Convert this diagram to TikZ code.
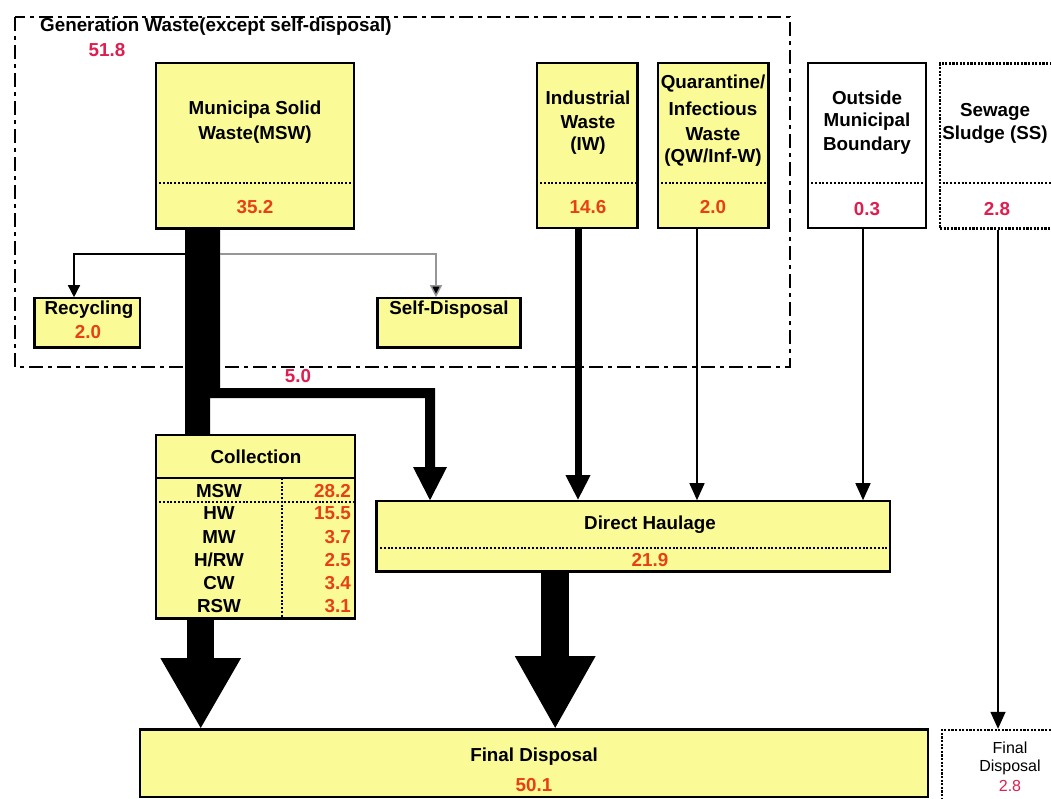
\documentclass[tikz,border=0pt]{standalone}
\usepackage{fontspec}
\setmainfont{Liberation Sans}
\usetikzlibrary{arrows.meta}
\definecolor{boxyellow}{RGB}{250,250,150}
\definecolor{numred}{RGB}{232,64,20}
\definecolor{numpink}{RGB}{222,30,80}
\definecolor{greyline}{RGB}{150,150,150}
\begin{document}
\begin{tikzpicture}[x=1pt,y=-1pt,
  font=\fontsize{18.8}{24}\selectfont\bfseries,
  ybox/.style={draw=black, line width=1.6pt, fill=boxyellow, rectangle, inner sep=0pt},
  wbox/.style={draw=black, line width=1.6pt, fill=white, rectangle, inner sep=0pt},
  dbox/.style={draw=black, line width=2.4pt, dash pattern=on 2.2pt off 1.4pt, fill=white, rectangle, inner sep=0pt},
  txt/.style={inner sep=0pt, anchor=center},
  num/.style={inner sep=0pt, anchor=center, text=numred},
  pnum/.style={inner sep=0pt, anchor=center, text=numpink},
  dotline/.style={line width=2pt, dash pattern=on 2pt off 1.8pt},
  framedash/.style={line width=2.4pt, dash pattern=on 14pt off 5pt on 4pt off 5pt},
  thinarrow/.style={line width=1.5pt, -{Triangle[width=15pt,length=17pt]}},
  smallarrow/.style={line width=1.5pt, -{Triangle[width=12pt,length=12pt]}},
  thick edge/.style={line width=3pt},
  smalltxt/.style={inner sep=0pt, anchor=center, font=\fontsize{16}{19}\selectfont\mdseries}
]
\useasboundingbox (0,0) rectangle (1051,798);
\clip (0,0) rectangle (1051,798);

% generation frame
\draw[framedash] (15,17) rectangle (790,367);
\node[txt, anchor=west] (title) at (40,27) {Generation Waste(except self-disposal)};
\node[pnum] (gentot) at (107,50) {51.8};

% source boxes
\node[ybox, minimum width=198pt, minimum height=165pt] (msw) at (255,145.5) {};
\node[ybox, minimum width=100pt, minimum height=165pt] (iw) at (587,145.5) {};
\node[ybox, minimum width=110pt, minimum height=165pt] (qw) at (713,145.5) {};
\node[wbox, minimum width=118pt, minimum height=165pt] (out) at (867,145.5) {};
\node[dbox, minimum width=130pt, minimum height=165pt] (ss) at (1005,146) {};

\draw[thick edge] (iw.north east) -- (iw.south east);
\draw[thick edge] (qw.north east) -- (qw.south east);
\draw[thick edge] (msw.south west) -- (msw.south east);

\draw[dotline] (msw.west |- 0,183) -- (msw.east |- 0,183);
\draw[dotline] (iw.west |- 0,183) -- (iw.east |- 0,183);
\draw[dotline] (qw.west |- 0,183) -- (qw.east |- 0,183);
\draw[dotline] (out.west |- 0,183) -- (out.east |- 0,183);
\draw[dotline] (ss.west |- 0,183) -- (ss.east |- 0,183);

\node[txt] (mswt1) at (255,110) {Municipa Solid};
\node[txt] (mswt2) at (255,135) {Waste(MSW)};
\node[num] (mswn) at (255,207) {35.2};

\node[txt] (iwt1) at (588,98) {Industrial};
\node[txt] (iwt2) at (588,122) {Waste};
\node[txt] (iwt3) at (588,146) {(IW)};
\node[num] (iwn) at (588,207) {14.6};

\node[txt] (qwt1) at (713,84) {Quarantine/};
\node[txt] (qwt2) at (713,109) {Infectious};
\node[txt] (qwt3) at (713,134) {Waste};
\node[txt] (qwt4) at (713,158) {(QW/Inf-W)};
\node[num] (qwn) at (713,207) {2.0};

\node[txt] (outt1) at (867,98) {Outside};
\node[txt] (outt2) at (867,122) {Municipal};
\node[txt] (outt3) at (867,146) {Boundary};
\node[pnum] (outn) at (867,209) {0.3};

\node[txt] (sst1) at (995,112) {Sewage};
\node[txt] (sst2) at (995,135) {Sludge (SS)};
\node[pnum] (ssn) at (997,209) {2.8};

% recycling / self-disposal
\node[ybox, minimum width=105pt, minimum height=49pt] (rec) at (87.5,322.5) {};
\node[ybox, minimum width=142pt, minimum height=49pt] (sd) at (449,322.5) {};
\draw[thick edge] (rec.north west) -- (rec.south west) -- (rec.south east);
\draw[thick edge] (sd.north west) -- (sd.south west) -- (sd.south east) -- (sd.north east);
\node[txt] (rect) at (89,310) {Recycling};
\node[num] (recn) at (88,332) {2.0};
\node[txt] (sdt) at (449,310) {Self-Disposal};

% collection
\node[ybox, minimum width=199pt, minimum height=183pt] (coll) at (255.5,526.5) {};
\draw[thick edge] (coll.south west) -- (coll.south east);
\draw[line width=1.6pt] (coll.west |- 0,478) -- (coll.east |- 0,478);
\draw[dotline] (coll.west |- 0,502) -- (coll.east |- 0,502);
\draw[dotline] (282,478) -- (282,618);
\node[txt] (collt) at (256,457) {Collection};
\node[txt] (c1) at (219,491) {MSW};
\node[txt] (c2) at (219,513) {HW};
\node[txt] (c3) at (219,537) {MW};
\node[txt] (c4) at (219,560) {H/RW};
\node[txt] (c5) at (219,583) {CW};
\node[txt] (c6) at (219,606) {RSW};
\node[num, anchor=east] (v1) at (351,491) {28.2};
\node[num, anchor=east] (v2) at (351,513) {15.5};
\node[num, anchor=east] (v3) at (351,537) {3.7};
\node[num, anchor=east] (v4) at (351,560) {2.5};
\node[num, anchor=east] (v5) at (351,583) {3.4};
\node[num, anchor=east] (v6) at (351,606) {3.1};

% direct haulage
\node[ybox, minimum width=513pt, minimum height=70pt] (dh) at (633.5,536) {};
\draw[thick edge] (dh.north west) -- (dh.south west) -- (dh.south east);
\draw[dotline] (dh.west |- 0,548) -- (dh.east |- 0,548);
\node[txt] (dht) at (650,525) {Direct Haulage};
\node[num] (dhn) at (650,560) {21.9};

% final disposal
\node[ybox, minimum width=788pt, minimum height=67pt] (fd) at (534,763.5) {};
\draw[thick edge] (fd.north west) -- (fd.north east);
\node[txt] (fdt) at (534,757) {Final Disposal};
\node[num] (fdn) at (534,785) {50.1};

\node[dbox, minimum width=130pt, minimum height=72pt] (fd2) at (1007,766) {};
\node[smalltxt] (fd2t1) at (1010,748) {Final};
\node[smalltxt] (fd2t2) at (1010,767) {Disposal};
\node[smalltxt, text=numpink] (fd2n) at (1010,786) {2.8};

% MSW flow: to collection and branch (5.0) to direct haulage
\fill[black] (185,0 |- msw.south) -- (220,0 |- msw.south) -- (220,388) -- (435,388)
   -- (435,467) -- (447,467) -- (430,0 |- dh.north) -- (413,467) -- (425,467)
   -- (425,398) -- (210,398) -- (210,0 |- coll.north) -- (185,0 |- coll.north) -- cycle;
\node[pnum] (five) at (298,376) {5.0};

\coordinate (r0) at (185,254);
\coordinate (s0) at (220,254);
\draw[smallarrow] (r0) -| ([xshift=-13.5pt]rec.north);
\draw[smallarrow, draw=greyline, -{Triangle[width=12pt,length=12pt,fill=black]}] (s0) -| ([xshift=-13pt]sd.north);

\draw[line width=7pt, -{Triangle[width=23pt,length=25pt]}] ([xshift=-9pt]iw.south) -- ([xshift=-9pt]iw.south |- dh.north);
\draw[thinarrow] ([xshift=-16pt]qw.south) -- ([xshift=-16pt]qw.south |- dh.north);
\draw[thinarrow] ([xshift=-4pt]out.south) -- ([xshift=-4pt]out.south |- dh.north);
\draw[thinarrow] ([xshift=-7pt]ss.south) -- ([xshift=-7pt]ss.south |- fd2.north);

\draw[line width=27pt, -{Triangle[width=75pt,length=71pt]}] ([xshift=45.5pt]coll.south west) -- ([xshift=45.5pt]coll.south west |- fd.north);
\draw[line width=28pt, -{Triangle[width=75pt,length=73pt]}] ([xshift=179pt]dh.south west) -- ([xshift=179pt]dh.south west |- fd.north);
\end{tikzpicture}
\end{document}
